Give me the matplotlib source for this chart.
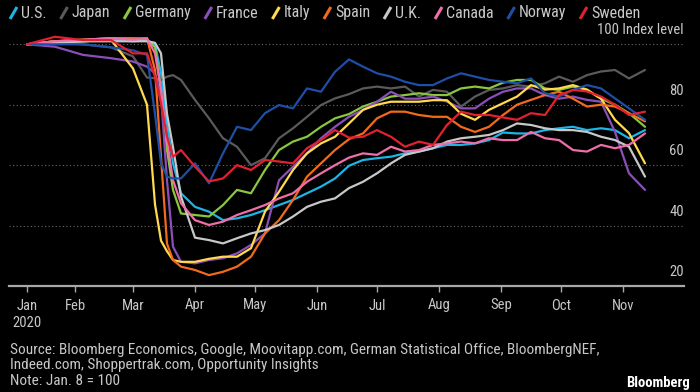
import matplotlib
matplotlib.use("Agg")
import matplotlib.pyplot as plt
from matplotlib import font_manager
from matplotlib.lines import Line2D
import pandas as pd

# Font: Bloomberg charts use a narrow face, take the first narrow one we have
names = {f.name for f in font_manager.fontManager.ttflist}
WANT = ["Roboto Condensed", "Archivo Narrow", "PT Sans Narrow", "IBM Plex Sans Condensed",
        "Liberation Sans Narrow", "Liberation Sans"]
FONT = next((n for n in WANT if n in names), "DejaVu Sans")
plt.rcParams["font.family"] = [FONT, "DejaVu Sans"]

# Data (index, Jan. 8 = 100)
DATES = [
    "2020-01-08", "2020-01-22", "2020-02-05", "2020-02-19", "2020-03-01", "2020-03-08",
    "2020-03-12", "2020-03-15", "2020-03-18", "2020-03-21", "2020-03-25", "2020-04-01",
    "2020-04-08", "2020-04-15", "2020-04-22", "2020-04-29", "2020-05-06", "2020-05-13",
    "2020-05-20", "2020-05-27", "2020-06-03", "2020-06-10", "2020-06-17", "2020-06-24",
    "2020-07-01", "2020-07-08", "2020-07-15", "2020-07-22", "2020-07-29", "2020-08-05",
    "2020-08-12", "2020-08-19", "2020-08-26", "2020-09-02", "2020-09-09", "2020-09-16",
    "2020-09-23", "2020-09-30", "2020-10-07", "2020-10-14", "2020-10-21", "2020-10-28",
    "2020-11-04", "2020-11-12",
]

US = [100, 100.5, 101, 101.5, 101, 101.4, 100, 90.4, 73.8, 60.6, 50.7, 46.2, 44.6, 41.8, 42.4,
      43.5, 45.1, 46.8, 48.5, 50.7, 52.9, 55.6, 59.8, 61.7, 62.3, 62.8, 63.9, 64.5, 65.6, 66.7,
      66.7, 67.2, 68.3, 70.8, 70.5, 70.5, 71.6, 72.2, 72.7, 71.6, 72.2, 71.6, 68.9, 71.6]
JAPAN = [100, 100.5, 100, 99, 96, 89, 88.8, 88.2, 89.3, 89.8, 88.2, 81.6, 75.5, 68.9, 66.1,
         60, 62.3, 68.9, 72.2, 76, 79.9, 82.1, 83.5, 85.4, 86, 85.4, 86, 82.7, 84.9, 84.3,
         79.4, 82.7, 84.9, 85.4, 86.5, 86, 87.1, 89.3, 87.6, 89.8, 91, 91.5, 88.7, 91.5]
GERMANY = [100, 101, 101.5, 102, 102, 101.5, 99, 85, 65, 51.8, 44, 43.5, 43, 46.8, 51.8,
           50.7, 58.4, 65, 67.8, 69.4, 72.7, 75.5, 76.9, 79.4, 81, 82.7, 83.2, 83.8, 83.2, 83.2,
           85.4, 86, 85.4, 87.3, 88.2, 88.2, 85.4, 84.9, 86, 84.9, 82, 80, 77.2, 72.7]
FRANCE = [100, 99.2, 96.5, 95.4, 94.3, 92.6, 90.4, 82.7, 55, 33, 28, 27.5, 28.6, 29.2, 30.8,
          33.6, 37.4, 55, 59.5, 63.9, 68.9, 72.7, 76, 78.3, 81, 84.3, 82, 82, 82.7, 81,
          78.8, 78.8, 82, 84.3, 85.4, 85.4, 83.2, 82, 82.7, 81.6, 81, 71, 57.3, 51.8]
ITALY = [100, 101, 101, 101.5, 92, 80, 47, 35, 31.5, 28.6, 28, 28, 29, 29.7, 29.7,
         32.5, 44.6, 51.2, 58.4, 63.9, 67.2, 69.4, 73.8, 78.3, 80, 81, 81, 81, 81.5, 81.5,
         77, 75, 78.3, 80.5, 82.7, 86.5, 85, 85.4, 86.5, 85, 82, 75, 70.6, 60.6]
SPAIN = [100, 101, 101.5, 102, 102, 102, 91.5, 62.8, 34, 28.6, 26.4, 25.3, 23.6, 24.7, 26.4,
         29.7, 37.4, 41.8, 48.5, 56.2, 60.6, 65, 68.6, 70.5, 75.5, 77.7, 77.7, 76.6, 76, 76,
         72.7, 71, 72.7, 76.6, 80, 81.6, 83.2, 84.3, 82, 79.4, 80, 79.4, 77.2, 74.5]
UK = [100, 100.5, 101, 101, 101, 101, 100.5, 97, 77, 66, 49.6, 36, 35.2, 34.1, 35.8,
      37.4, 38.5, 40.2, 43, 46.2, 47.9, 49, 52.4, 54.5, 57.3, 60.6, 63.4, 64.5, 65.6, 67.8,
      68.9, 69.4, 70, 71.6, 73.8, 73.3, 72.2, 71.6, 71.6, 71, 69.4, 68.3, 66.1, 56.2]
CANADA = [100, 101, 101.5, 102, 101.5, 102, 97, 85, 68.3, 55, 47.4, 41.8, 40.2, 41.3, 43.5,
          45.1, 46.8, 49, 50.7, 54.5, 57.3, 60, 62.5, 63.9, 63.4, 66.1, 64.5, 65, 66.7, 67.2,
          67.8, 67.2, 68.9, 68.3, 68.3, 71, 68.9, 68.3, 65, 64.5, 66.7, 65.6, 66.7, 70.5]
NORWAY = [100, 100, 100, 99, 98, 96.5, 77, 60.6, 56.2, 55.6, 55.6, 60.6, 54, 63.9, 72.7,
          71.6, 77.2, 79.9, 78.8, 85.4, 84.3, 90.9, 95, 92.6, 90.4, 89.3, 87.6, 86.5, 86.5, 88.7,
          90.4, 89.3, 88.2, 87.6, 87.1, 88.7, 83.8, 82.7, 84.9, 86.5, 85.4, 82.1, 78.8, 75]
SWEDEN = [100, 102.5, 101.4, 101.4, 97, 97, 89.3, 80.5, 69.4, 62.8, 65, 59.5, 54.6, 55.6, 60,
          58.4, 61.7, 61.2, 60.6, 65.6, 68.3, 71.6, 69.1, 69.4, 71.6, 69.4, 66.1, 67.8, 66.7, 73.3,
          77.7, 76.6, 76.6, 75.8, 75, 77.2, 76.6, 83.2, 84.9, 84.4, 82.7, 80, 76.6, 77.7]

COUNTRIES = ["U.S.", "Japan", "Germany", "France", "Italy", "Spain", "U.K.", "Canada", "Norway", "Sweden"]
SERIES = [US, JAPAN, GERMANY, FRANCE, ITALY, SPAIN, UK, CANADA, NORWAY, SWEDEN]
COLORS = ["#1db4e6", "#5a5a5a", "#8cc63f", "#8a4fb8", "#ffd94f", "#f26a1b",
          "#c8c8c8", "#f06ea9", "#1d4fa6", "#e2202f"]

TICK_DATES = ["2020-01-08", "2020-02-01", "2020-03-01", "2020-04-01", "2020-05-01", "2020-06-01",
              "2020-07-01", "2020-08-01", "2020-09-01", "2020-10-01", "2020-11-01"]
TICK_LABELS = ["Jan\n2020", "Feb", "Mar", "Apr", "May", "Jun", "Jul", "Aug", "Sep", "Oct", "Nov"]
Y_LEVELS = [20, 40, 60, 80, 100]

TEXT = "#c8c8c8"
W, H = 700, 392

fig = plt.figure(figsize=(W / 100, H / 100), dpi=100, facecolor="black")
ax = fig.add_axes([9 / W, 106 / H, 675 / W, 256.8 / H])
ax.set_facecolor("black")

x = pd.to_datetime(DATES)
for name, vals, col in zip(COUNTRIES, SERIES, COLORS):
    assert len(vals) == len(x), name
    ax.plot(x, vals, color=col, lw=1.6, solid_joinstyle="round", solid_capstyle="round", zorder=3)

ax.set_xlim(pd.Timestamp("2019-12-30"), pd.Timestamp("2020-12-01 12:00"))
ax.set_ylim(20, 105)

# dotted grid + right side labels sitting above the lines
for v in Y_LEVELS:
    if v > 20:
        ax.axhline(v, color="#6a6a6a", lw=0.8, ls=(0, (1, 2.2)), zorder=1)
    label = "100 Index level" if v == 100 else str(v)
    ax.annotate(label, xy=(1, v), xycoords=("axes fraction", "data"), xytext=(0, 10),
                textcoords="offset points", ha="right", va="center", color=TEXT, fontsize=10.5)

for s in ["top", "left", "right"]:
    ax.spines[s].set_visible(False)
ax.spines["bottom"].set_color("#a8a8a8")
ax.spines["bottom"].set_linewidth(1.6)
ax.set_yticks([])
ax.set_xticks(pd.to_datetime(TICK_DATES))
ax.set_xticklabels(TICK_LABELS, linespacing=1.3)
ax.tick_params(axis="x", colors="#a8a8a8", labelcolor=TEXT, length=4, width=1,
               direction="out", pad=5, labelsize=10.5)

# legend across the top: coloured slash + name
fig.canvas.draw()
renderer = fig.canvas.get_renderer()
xp, yp = 10, H - 13
for name, col in zip(COUNTRIES, COLORS):
    fig.add_artist(Line2D([xp / W, (xp + 7) / W], [(yp - 6) / H, (yp + 6) / H],
                          color=col, lw=2.2, solid_capstyle="butt"))
    t = fig.text((xp + 11) / W, yp / H, name, color=TEXT, fontsize=11.5, va="center", ha="left")
    bb = t.get_window_extent(renderer)
    xp = bb.x1 + 14

fig.text(10 / W, (H - 343) / H,
         "Source: Bloomberg Economics, Google, Moovitapp.com, German Statistical Office, BloombergNEF,\n"
         "Indeed.com, Shoppertrak.com, Opportunity Insights\n"
         "Note: Jan. 8 = 100",
         color=TEXT, fontsize=11, va="top", ha="left", linespacing=1.12)
fig.text(690 / W, (H - 383) / H, "Bloomberg", color="white", fontsize=10.5, fontweight="bold",
         ha="right", va="center")

fig.savefig("out.png", dpi=100, facecolor="black")
